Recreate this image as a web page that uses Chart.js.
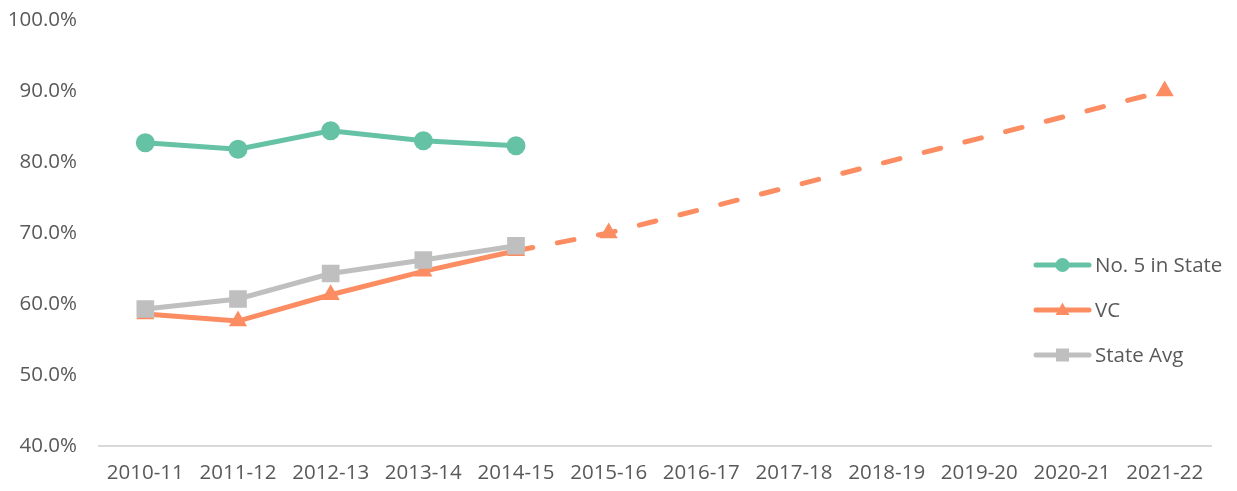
<!DOCTYPE html>
<html>
<head>
<meta charset="utf-8">
<script src="https://cdn.jsdelivr.net/npm/chart.js@4/dist/chart.umd.min.js"></script>
<style>
html,body{margin:0;padding:0;background:#fff;}
canvas{display:block;}
</style>
</head>
<body>
<canvas id="c" width="1237" height="491"></canvas>
<script>
const categories = ["2010-11","2011-12","2012-13","2013-14","2014-15","2015-16","2016-17","2017-18","2018-19","2019-20","2020-21","2021-22"];
const seriesNames = ["No. 5 in State","VC","State Avg"];
const no5InState = [82.7, 81.8, 84.4, 83.0, 82.3, null, null, null, null, null, null, null];
const vc = [58.6, 57.6, 61.3, 64.6, 67.5, 70.0, null, null, null, null, null, 90.0];
const stateAvg = [59.3, 60.7, 64.3, 66.2, 68.2, null, null, null, null, null, null, null];
const yTicks = [40, 50, 60, 70, 80, 90, 100];
const lastActualIndex = 4;

const GREEN = "#66c2a5", ORANGE = "#fc8d62", GREY = "#bfbfbf", TEXT = "#595959";
const FONT = "'Open Sans', sans-serif";
const FSIZE = 20.5;

const legendPlugin = {
  id: "overlayLegend",
  afterDraw(chart) {
    const ctx = chart.ctx;
    const items = [
      {label: seriesNames[0], color: GREEN, shape: "circle"},
      {label: seriesNames[1], color: ORANGE, shape: "triangle"},
      {label: seriesNames[2], color: GREY, shape: "rect"}
    ];
    const x0 = 1034, x1 = 1091, tx = 1095;
    let y = 265;
    ctx.save();
    items.forEach(it => {
      ctx.strokeStyle = it.color;
      ctx.fillStyle = it.color;
      ctx.lineWidth = 5;
      ctx.lineCap = "round";
      ctx.beginPath(); ctx.moveTo(x0 + 2, y); ctx.lineTo(x1 - 2, y); ctx.stroke();
      const cx = (x0 + x1) / 2;
      ctx.beginPath();
      if (it.shape === "circle") { ctx.arc(cx, y, 7, 0, Math.PI * 2); }
      else if (it.shape === "triangle") { ctx.moveTo(cx, y - 7.5); ctx.lineTo(cx + 7, y + 5); ctx.lineTo(cx - 7, y + 5); ctx.closePath(); }
      else { ctx.rect(cx - 6.5, y - 6.5, 13, 13); }
      ctx.fill();
      ctx.fillStyle = TEXT;
      ctx.font = FSIZE + "px " + FONT;
      ctx.textBaseline = "middle";
      ctx.textAlign = "left";
      ctx.fillText(it.label, tx, y + 1);
      y += 45;
    });
    ctx.restore();
  }
};

new Chart(document.getElementById("c"), {
  type: "line",
  data: {
    labels: categories,
    datasets: [
      {label: seriesNames[0], data: no5InState, borderColor: GREEN, backgroundColor: GREEN, borderWidth: 5,
       pointStyle: "circle", pointRadius: 9.5, pointHoverRadius: 9.5, pointBorderWidth: 0, order: 2},
      {label: seriesNames[1], data: vc, borderColor: ORANGE, backgroundColor: ORANGE, borderWidth: 5,
       pointStyle: "triangle", pointRadius: 10.5, pointHoverRadius: 10.5, pointBorderWidth: 0, spanGaps: true, order: 1,
       segment: {
         borderDash: c => c.p0DataIndex >= lastActualIndex ? [17, 25] : undefined,
         borderCapStyle: c => c.p0DataIndex >= lastActualIndex ? "round" : "butt"
       }},
      {label: seriesNames[2], data: stateAvg, borderColor: GREY, backgroundColor: GREY, borderWidth: 5,
       pointStyle: "rect", pointRadius: 12.5, pointHoverRadius: 12.5, pointBorderWidth: 0, order: 0}
    ]
  },
  options: {
    responsive: false,
    animation: false,
    layout: {padding: {left: 0, right: 26, top: 20, bottom: 0}},
    plugins: {legend: {display: false}, tooltip: {enabled: false}},
    elements: {line: {tension: 0}},
    scales: {
      x: {
        offset: true,
        grid: {display: false, drawTicks: false},
        border: {display: true, color: "#d9d9d9", width: 2},
        ticks: {color: TEXT, font: {family: FONT, size: FSIZE}, padding: 15, maxRotation: 0, autoSkip: false},
        afterFit(s) { s.height = 45; s.paddingLeft = 0; s.paddingRight = 0; }
      },
      y: {
        min: yTicks[0], max: yTicks[yTicks.length - 1],
        grid: {display: false, drawTicks: false},
        border: {display: false},
        afterBuildTicks(s) { s.ticks = yTicks.map(v => ({value: v})); },
        ticks: {color: TEXT, font: {family: FONT, size: FSIZE}, padding: 22,
                callback: v => v.toFixed(1) + "%"},
        afterFit(s) { s.width = 99; s.paddingTop = 0; s.paddingBottom = 0; }
      }
    }
  },
  plugins: [legendPlugin]
});
</script>
</body>
</html>
